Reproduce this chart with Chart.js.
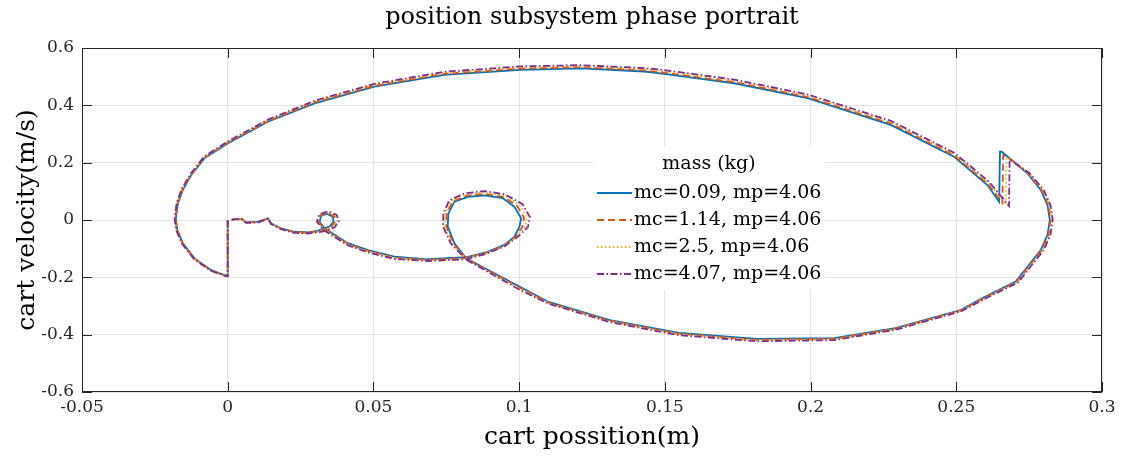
<!DOCTYPE html>
<html>
<head>
<meta charset="utf-8">
<script src="https://cdn.jsdelivr.net/npm/chart.js@4.4.1/dist/chart.umd.min.js"></script>
<style>
  html, body { margin: 0; padding: 0; background: #fff; }
  #wrap { width: 1124px; height: 459px; }
</style>
</head>
<body>
<div id="wrap"><canvas id="phaseChart" width="1124" height="459"></canvas></div>
<script>
var chartTitle = "position subsystem phase portrait";
var seriesLabels = ["mc=0.09, mp=4.06", "mc=1.14, mp=4.06", "mc=2.5, mp=4.06", "mc=4.07, mp=4.06"];
var lineColors = ["#0072BD", "#D95319", "#EDB120", "#7E2F8E"];
var lineDashes = [[], [7, 4], [1.5, 2.5], [7, 2.5, 1.5, 2.5]];
var xTickValues = [-0.05, 0, 0.05, 0.1, 0.15, 0.2, 0.25, 0.3];
var yTickValues = [-0.6, -0.4, -0.2, 0, 0.2, 0.4, 0.6];

// [position (m), velocity (m/s)]
var runA = [[0,0],[0,-0.195],[-0.0011,-0.192],[-0.0057,-0.175],[-0.0114,-0.134],[-0.0154,-0.081],[-0.0173,-0.035],[-0.0178,0.006],[-0.0171,0.058],[-0.0154,0.105],[-0.0125,0.157],[-0.0080,0.215],[0.0001,0.268],[0.0138,0.343],[0.0298,0.407],[0.0503,0.465],[0.0743,0.506],[0.1003,0.524],[0.1212,0.529],[0.1429,0.518],[0.1498,0.510],[0.1738,0.477],[0.1990,0.425],[0.2275,0.332],[0.2492,0.221],[0.2607,0.122],[0.2647,0.064],[0.2650,0.238],[0.2656,0.238],[0.2687,0.212],[0.2744,0.163],[0.2790,0.105],[0.2813,0.052],[0.2821,0],[0.2813,-0.052],[0.2790,-0.105],[0.2704,-0.215],[0.2595,-0.270],[0.2515,-0.314],[0.2291,-0.377],[0.2081,-0.412],[0.1815,-0.415],[0.1549,-0.394],[0.1311,-0.349],[0.1101,-0.286],[0.1012,-0.238],[0.0818,-0.134],[0.0778,-0.081],[0.0755,-0.023],[0.0757,0.023],[0.0778,0.064],[0.0824,0.081],[0.0881,0.086],[0.0944,0.076],[0.0984,0.046],[0.1007,0.006],[0.1001,-0.023],[0.0984,-0.058],[0.0949,-0.087],[0.0892,-0.111],[0.0818,-0.130],[0.0687,-0.137],[0.0572,-0.128],[0.0481,-0.105],[0.0412,-0.081],[0.0332,-0.029],[0.0315,-0.006],[0.0321,0.015],[0.0341,0.021],[0.0361,0.012],[0.0363,-0.006],[0.0349,-0.023],[0.0326,-0.031],[0.0309,-0.038],[0.0275,-0.043],[0.0229,-0.041],[0.0183,-0.029],[0.0149,-0.012],[0.0138,0.006],[0.0126,0.001],[0.0104,-0.006],[0.0063,-0.008],[0.0049,0.003],[0.0023,0.003],[0.0012,0]];
var runB = [[0,0],[0,-0.196],[-0.0011,-0.193],[-0.0058,-0.175],[-0.0115,-0.134],[-0.0155,-0.081],[-0.0174,-0.035],[-0.0179,0.006],[-0.0172,0.059],[-0.0155,0.106],[-0.0126,0.158],[-0.0081,0.217],[0.0001,0.270],[0.0138,0.345],[0.0298,0.410],[0.0503,0.468],[0.0743,0.510],[0.1003,0.528],[0.1212,0.533],[0.1429,0.522],[0.1498,0.514],[0.1738,0.481],[0.1990,0.429],[0.2275,0.337],[0.2492,0.226],[0.2609,0.126],[0.2658,0.060],[0.2661,0.226],[0.2664,0.225],[0.2689,0.209],[0.2747,0.163],[0.2793,0.105],[0.2816,0.052],[0.2824,0],[0.2816,-0.052],[0.2793,-0.105],[0.2707,-0.216],[0.2597,-0.271],[0.2516,-0.315],[0.2291,-0.379],[0.2081,-0.414],[0.1815,-0.418],[0.1549,-0.397],[0.1311,-0.351],[0.1101,-0.288],[0.1010,-0.240],[0.0818,-0.135],[0.0774,-0.081],[0.0750,-0.023],[0.0751,0.023],[0.0772,0.065],[0.0820,0.085],[0.0881,0.091],[0.0946,0.081],[0.0993,0.049],[0.1017,0.007],[0.1011,-0.024],[0.0989,-0.057],[0.0949,-0.089],[0.0891,-0.113],[0.0818,-0.132],[0.0687,-0.139],[0.0572,-0.131],[0.0481,-0.108],[0.0412,-0.083],[0.0331,-0.031],[0.0312,-0.006],[0.0319,0.017],[0.0342,0.024],[0.0365,0.014],[0.0369,-0.005],[0.0355,-0.024],[0.0331,-0.033],[0.0311,-0.039],[0.0275,-0.044],[0.0229,-0.042],[0.0183,-0.030],[0.0149,-0.013],[0.0138,0.006],[0.0126,0.001],[0.0104,-0.007],[0.0063,-0.009],[0.0049,0.003],[0.0023,0.003],[0.0012,0]];
var runC = [[0,0],[0,-0.196],[-0.0012,-0.193],[-0.0059,-0.176],[-0.0116,-0.135],[-0.0157,-0.081],[-0.0176,-0.035],[-0.0181,0.006],[-0.0174,0.059],[-0.0157,0.107],[-0.0127,0.160],[-0.0081,0.218],[0,0.272],[0.0138,0.348],[0.0298,0.413],[0.0503,0.472],[0.0743,0.513],[0.1003,0.532],[0.1212,0.536],[0.1429,0.526],[0.1498,0.519],[0.1738,0.486],[0.1990,0.434],[0.2275,0.341],[0.2492,0.230],[0.2610,0.130],[0.2670,0.054],[0.2672,0.218],[0.2676,0.217],[0.2692,0.207],[0.2749,0.163],[0.2797,0.105],[0.2820,0.052],[0.2828,0],[0.2820,-0.052],[0.2797,-0.105],[0.2709,-0.217],[0.2598,-0.273],[0.2517,-0.317],[0.2291,-0.381],[0.2081,-0.417],[0.1815,-0.420],[0.1549,-0.399],[0.1311,-0.354],[0.1101,-0.290],[0.1007,-0.243],[0.0818,-0.137],[0.0769,-0.081],[0.0744,-0.023],[0.0746,0.023],[0.0766,0.067],[0.0816,0.089],[0.0881,0.096],[0.0948,0.085],[0.1003,0.052],[0.1027,0.009],[0.1020,-0.024],[0.0993,-0.057],[0.0949,-0.090],[0.0891,-0.115],[0.0818,-0.135],[0.0687,-0.141],[0.0572,-0.133],[0.0481,-0.110],[0.0412,-0.086],[0.0331,-0.034],[0.0309,-0.006],[0.0316,0.018],[0.0344,0.027],[0.0370,0.016],[0.0375,-0.005],[0.0361,-0.024],[0.0335,-0.035],[0.0312,-0.041],[0.0275,-0.046],[0.0229,-0.044],[0.0183,-0.031],[0.0149,-0.013],[0.0138,0.006],[0.0126,0],[0.0104,-0.008],[0.0063,-0.009],[0.0049,0.002],[0.0023,0.002],[0.0011,0]];
var runD = [[0,0],[0,-0.197],[-0.0012,-0.194],[-0.0060,-0.176],[-0.0117,-0.135],[-0.0158,-0.081],[-0.0177,-0.035],[-0.0182,0.006],[-0.0175,0.060],[-0.0158,0.108],[-0.0128,0.161],[-0.0082,0.220],[0,0.274],[0.0138,0.350],[0.0298,0.416],[0.0503,0.475],[0.0743,0.517],[0.1003,0.536],[0.1212,0.540],[0.1429,0.530],[0.1498,0.523],[0.1738,0.490],[0.1990,0.438],[0.2275,0.346],[0.2492,0.235],[0.2612,0.134],[0.2681,0.049],[0.2683,0.209],[0.2686,0.211],[0.2694,0.204],[0.2752,0.163],[0.2800,0.105],[0.2823,0.052],[0.2831,0],[0.2823,-0.052],[0.2800,-0.105],[0.2712,-0.218],[0.2600,-0.274],[0.2518,-0.318],[0.2291,-0.383],[0.2081,-0.419],[0.1815,-0.423],[0.1549,-0.402],[0.1311,-0.356],[0.1101,-0.292],[0.1005,-0.245],[0.0818,-0.138],[0.0765,-0.081],[0.0739,-0.023],[0.0740,0.023],[0.0760,0.068],[0.0812,0.093],[0.0881,0.101],[0.0950,0.090],[0.1012,0.055],[0.1037,0.010],[0.1030,-0.025],[0.0998,-0.056],[0.0949,-0.092],[0.0890,-0.117],[0.0818,-0.137],[0.0687,-0.143],[0.0572,-0.136],[0.0481,-0.113],[0.0412,-0.088],[0.0330,-0.036],[0.0306,-0.006],[0.0314,0.020],[0.0345,0.030],[0.0374,0.018],[0.0381,-0.004],[0.0367,-0.025],[0.0340,-0.037],[0.0314,-0.042],[0.0275,-0.047],[0.0229,-0.045],[0.0183,-0.032],[0.0149,-0.014],[0.0138,0.006],[0.0126,0],[0.0104,-0.009],[0.0063,-0.010],[0.0049,0.002],[0.0023,0.002],[0.0010,0]];

var runs = [runA, runB, runC, runD];
var serif = "'DejaVu Serif', serif";
var axisColor = "#262626";

Chart.defaults.font.family = serif;
Chart.defaults.color = axisColor;

var datasets = runs.map(function (run, i) {
  return {
    label: seriesLabels[i],
    data: run.map(function (p) { return { x: p[0], y: p[1] }; }),
    showLine: true,
    borderColor: lineColors[i],
    backgroundColor: lineColors[i],
    borderDash: lineDashes[i],
    borderWidth: 1.8,
    pointRadius: 0,
    tension: 0,
    order: runs.length - i   // last series on top, like MATLAB
  };
});

// title over the axes, box, inward ticks and the legend inside the plot
var boxAndLegend = {
  id: "boxAndLegend",
  afterDatasetsDraw: function (chart) {
    var ctx = chart.ctx;
    var a = chart.chartArea;
    var xs = chart.scales.x;
    var ys = chart.scales.y;
    var tick = 10;
    ctx.save();
    ctx.strokeStyle = axisColor;
    ctx.lineWidth = 1;
    ctx.beginPath();
    xs.ticks.forEach(function (t) {
      var px = Math.round(xs.getPixelForValue(t.value)) + 0.5;
      ctx.moveTo(px, a.bottom); ctx.lineTo(px, a.bottom - tick);
      ctx.moveTo(px, a.top); ctx.lineTo(px, a.top + tick);
    });
    ys.ticks.forEach(function (t) {
      var py = Math.round(ys.getPixelForValue(t.value)) + 0.5;
      ctx.moveTo(a.left, py); ctx.lineTo(a.left + tick, py);
      ctx.moveTo(a.right, py); ctx.lineTo(a.right - tick, py);
    });
    ctx.stroke();
    ctx.strokeRect(a.left + 0.5, a.top + 0.5, a.right - a.left - 1, a.bottom - a.top - 1);

    ctx.fillStyle = "#000";
    ctx.font = "24px " + serif;
    ctx.textAlign = "center";
    ctx.textBaseline = "middle";
    ctx.fillText(chartTitle, (a.left + a.right) / 2, 18);

    // legend
    var lx = a.left + 511, ly = a.top + 98, lw = 232, lh = 144;
    ctx.fillStyle = "#fff";
    ctx.fillRect(lx, ly, lw, lh);
    ctx.fillStyle = "#000";
    ctx.font = "19px " + serif;
    ctx.fillText("mass (kg)", lx + lw / 2, ly + 18);
    ctx.textAlign = "left";
    chart.data.datasets.forEach(function (ds, i) {
      var yy = ly + 47 + i * 27;
      ctx.strokeStyle = ds.borderColor;
      ctx.lineWidth = ds.borderWidth;
      ctx.setLineDash(ds.borderDash);
      ctx.beginPath();
      ctx.moveTo(lx + 4, yy);
      ctx.lineTo(lx + 39, yy);
      ctx.stroke();
      ctx.setLineDash([]);
      ctx.fillStyle = "#000";
      ctx.fillText(ds.label, lx + 41, yy);
    });
    ctx.restore();
  }
};

new Chart("phaseChart", {
  type: "scatter",
  data: { datasets: datasets },
  options: {
    responsive: false,
    animation: false,
    layout: { padding: { left: 0, right: 22, top: 48, bottom: 0 } },
    plugins: {
      legend: { display: false },
      tooltip: { enabled: false },
      title: { display: false }
    },
    scales: {
      x: {
        type: "linear",
        min: -0.05,
        max: 0.3,
        afterBuildTicks: function (s) { s.ticks = xTickValues.map(function (v) { return { value: v }; }); },
        afterFit: function (s) { s.height = 67; },
        ticks: { font: { size: 17 }, padding: 5, maxRotation: 0, callback: function (v) { return String(v); } },
        grid: { color: "#e3e3e3", lineWidth: 1, drawTicks: false },
        border: { display: false },
        title: { display: true, text: "cart possition(m)", color: "#000", font: { size: 25 }, padding: { top: 0, bottom: 7 } }
      },
      y: {
        type: "linear",
        min: -0.6,
        max: 0.6,
        afterBuildTicks: function (s) { s.ticks = yTickValues.map(function (v) { return { value: v }; }); },
        afterFit: function (s) { s.width = 82; },
        ticks: { font: { size: 17 }, padding: 8, callback: function (v) { return String(v); } },
        grid: { color: "#e3e3e3", lineWidth: 1, drawTicks: false },
        border: { display: false },
        title: { display: true, text: "cart velocity(m/s)", color: "#000", font: { size: 25 }, padding: { top: 12, bottom: 0 } }
      }
    }
  },
  plugins: [boxAndLegend]
});
</script>
</body>
</html>
